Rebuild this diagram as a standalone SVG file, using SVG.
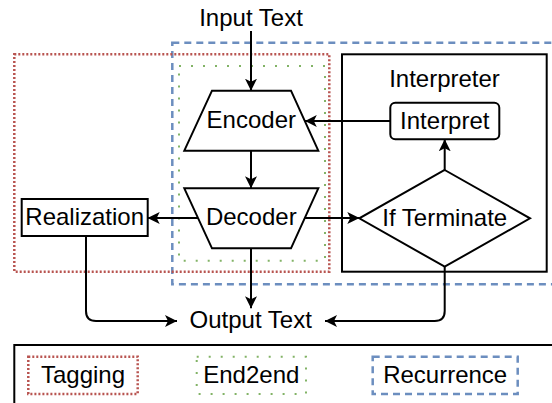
<svg xmlns="http://www.w3.org/2000/svg" width="552" height="403" viewBox="0 0 552 403">
<style>
text{font-family:"Liberation Sans",Arial,Helvetica,sans-serif;font-size:24px;fill:#000;text-anchor:middle}
.n{fill:#fff;stroke:#000;stroke-width:2}
.c{fill:none;stroke:#000;stroke-width:2}
.tag{fill:none;stroke:#b85450;stroke-width:2.5;stroke-dasharray:2 2}
.e2e{fill:none;stroke:#82b366;stroke-width:2;stroke-dasharray:2 10}
.rec{fill:none;stroke:#6c8ebf;stroke-width:2.5;stroke-dasharray:7 5}
</style>
<defs>
<marker id="ah" viewBox="0 0 12 12" refX="12" refY="6" markerWidth="12" markerHeight="12" markerUnits="userSpaceOnUse" orient="auto">
<path d="M0,0 L12,6 L0,12 L3,6 Z" fill="#000"/>
</marker>
</defs>
<rect width="552" height="403" fill="#fff"/>
<g id="groups">
<rect class="rec" x="172.3" y="42.7" width="390" height="241.6"/>
<rect class="tag" x="14.3" y="54.3" width="315" height="217.4"/>
<rect class="e2e" x="179" y="66" width="146" height="194.7"/>
</g>
<g id="interpreter">
<rect class="n" x="342" y="54.3" width="204.7" height="217.4"/>
<text x="444.5" y="87">Interpreter</text>
</g>
<g id="input"><text x="251" y="26">Input Text</text></g>
<g id="encoder">
<path class="n" d="M212,90.7 L291,90.7 L318.3,150.7 L184.3,150.7 Z"/>
<text x="251.3" y="128.3">Encoder</text>
</g>
<g id="decoder">
<path class="n" d="M184.3,188.3 L318.3,188.3 L291,248.3 L212,248.3 Z"/>
<text x="251.3" y="225">Decoder</text>
</g>
<g id="interpret">
<rect class="n" x="390.3" y="102.7" width="109" height="36.6" rx="5"/>
<text x="444.8" y="129.3">Interpret</text>
</g>
<g id="terminate">
<path class="n" d="M444.7,170 L530,218.3 L444.7,266.7 L359.3,218.3 Z"/>
<text x="444.7" y="226">If Terminate</text>
</g>
<g id="realization">
<rect class="n" x="21.7" y="199" width="126" height="37"/>
<text x="84.7" y="225">Realization</text>
</g>
<g id="output"><text x="250.7" y="328.3">Output Text</text></g>
<g id="connectors">
<path class="c" d="M251,31 L251,90.7" marker-end="url(#ah)"/>
<path class="c" d="M251,150.7 L251,188.3" marker-end="url(#ah)"/>
<path class="c" d="M390.3,121 L304.8,121" marker-end="url(#ah)"/>
<path class="c" d="M444.7,170 L444.7,139.3" marker-end="url(#ah)"/>
<path class="c" d="M198,218 L147.7,218" marker-end="url(#ah)"/>
<path class="c" d="M304.8,218 L359.3,218" marker-end="url(#ah)"/>
<path class="c" d="M251,248.3 L251,308.3" marker-end="url(#ah)"/>
<path class="c" d="M86,236 L86,311 Q86,321 96,321 L177,321" marker-end="url(#ah)"/>
<path class="c" d="M444.7,266.7 L444.7,311 Q444.7,321 434.7,321 L325,321" marker-end="url(#ah)"/>
</g>
<g id="legend">
<rect class="n" x="14.3" y="345" width="560" height="80"/>
<rect class="tag" x="28.3" y="356.7" width="109.4" height="37.3"/>
<text x="83" y="383.3">Tagging</text>
<rect class="e2e" x="196.7" y="356.7" width="109.3" height="37.3"/>
<text x="251.3" y="383.3">End2end</text>
<rect class="rec" x="372.7" y="356.7" width="145" height="37.3"/>
<text x="445.2" y="383.3">Recurrence</text>
</g>
</svg>
